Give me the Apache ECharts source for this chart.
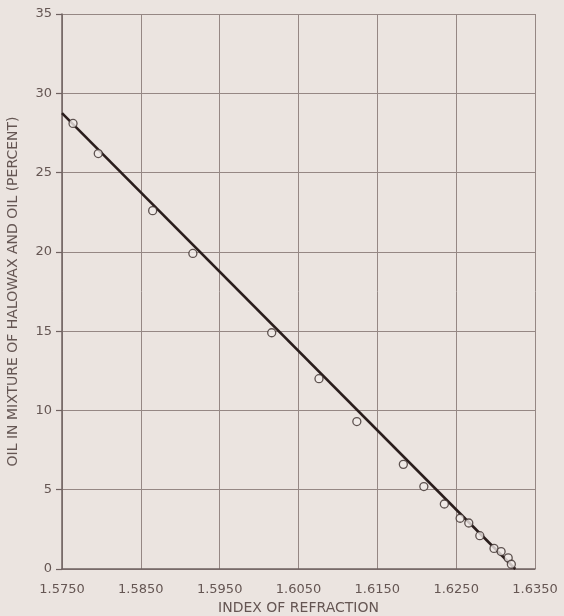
<!DOCTYPE html>
<html>
<head>
<meta charset="utf-8">
<script src="https://cdn.jsdelivr.net/npm/echarts@6/dist/echarts.min.js"></script>
<style>
  html, body { margin: 0; padding: 0; background: #ebe4e0; }
  #chart { width: 564px; height: 616px; }
</style>
</head>
<body>
<div id="chart"></div>
<script>
// Data
var refractiveIndex = [1.5764, 1.5796, 1.5865, 1.5916, 1.6016, 1.6076, 1.6124, 1.6183, 1.6209, 1.6235, 1.6255, 1.6266, 1.6280, 1.6298, 1.6307, 1.6316, 1.6320];
var oilPercent      = [28.1, 26.2, 22.6, 19.9, 14.9, 12.0, 9.3, 6.6, 5.2, 4.1, 3.2, 2.9, 2.1, 1.3, 1.1, 0.7, 0.3];
var fitLineX = [1.5750, 1.6325];
var fitLineY = [28.75, 0];
var xTickLabels = ['1.5750', '1.5850', '1.5950', '1.6050', '1.6150', '1.6250', '1.6350'];
var yTickValues = [0, 5, 10, 15, 20, 25, 30, 35];

var gridColor = '#958784';
var textColor = '#655653';
var inkColor = '#2a1d1c';
var font = 'DejaVu Sans';

var chart = echarts.init(document.getElementById('chart'), null, { renderer: 'canvas' });

var points = refractiveIndex.map(function (x, i) { return [x, oilPercent[i]]; });
var line = fitLineX.map(function (x, i) { return [x, fitLineY[i]]; });

chart.setOption({
  backgroundColor: '#ebe4e0',
  animation: false,
  grid: { left: 62, right: 29, top: 14, bottom: 47, containLabel: false, outerBoundsMode: 'none' },
  xAxis: [
    {
      type: 'value',
      min: 1.575,
      max: 1.635,
      axisLine: { show: true, lineStyle: { color: '#6f6260', width: 1.5 } },
      axisTick: { show: false },
      axisLabel: { show: false },
      splitLine: { show: false },
      name: 'INDEX OF REFRACTION',
      nameLocation: 'middle',
      nameGap: 32,
      nameTextStyle: { color: textColor, fontFamily: font, fontSize: 14 }
    },
    {
      type: 'value',
      min: 0,
      max: xTickLabels.length - 1,
      interval: 1,
      position: 'bottom',
      axisLine: { show: false },
      axisTick: { show: false },
      axisLabel: {
        color: textColor, fontFamily: font, fontSize: 13, margin: 14,
        formatter: function (v) { return xTickLabels[Math.round(v)]; }
      },
      splitLine: { show: true, lineStyle: { color: gridColor, width: 1 } }
    }
  ],
  yAxis: {
    type: 'value',
    min: yTickValues[0],
    max: yTickValues[yTickValues.length - 1],
    interval: 5,
    axisLine: { show: true, lineStyle: { color: '#6f6260', width: 1.5 } },
    axisTick: { show: true, length: 6, lineStyle: { color: '#6f6260', width: 1.2 } },
    axisLabel: { color: textColor, fontFamily: font, fontSize: 13, margin: 10 },
    splitLine: { show: true, lineStyle: { color: gridColor, width: 1 } },
    name: 'OIL IN MIXTURE OF HALOWAX AND OIL (PERCENT)',
    nameLocation: 'middle',
    nameRotate: 90,
    nameGap: 42,
    nameTextStyle: { color: textColor, fontFamily: font, fontSize: 14 }
  },
  series: [
    {
      type: 'line',
      xAxisIndex: 0,
      data: line,
      showSymbol: false,
      symbol: 'none',
      lineStyle: { color: inkColor, width: 2.6 },
      z: 3
    },
    {
      type: 'scatter',
      xAxisIndex: 0,
      data: points,
      symbol: 'circle',
      symbolSize: 8,
      itemStyle: { color: '#f1ebe8', borderColor: '#3a2d2b', borderWidth: 1.3 },
      z: 4
    }
  ]
});
</script>
</body>
</html>
